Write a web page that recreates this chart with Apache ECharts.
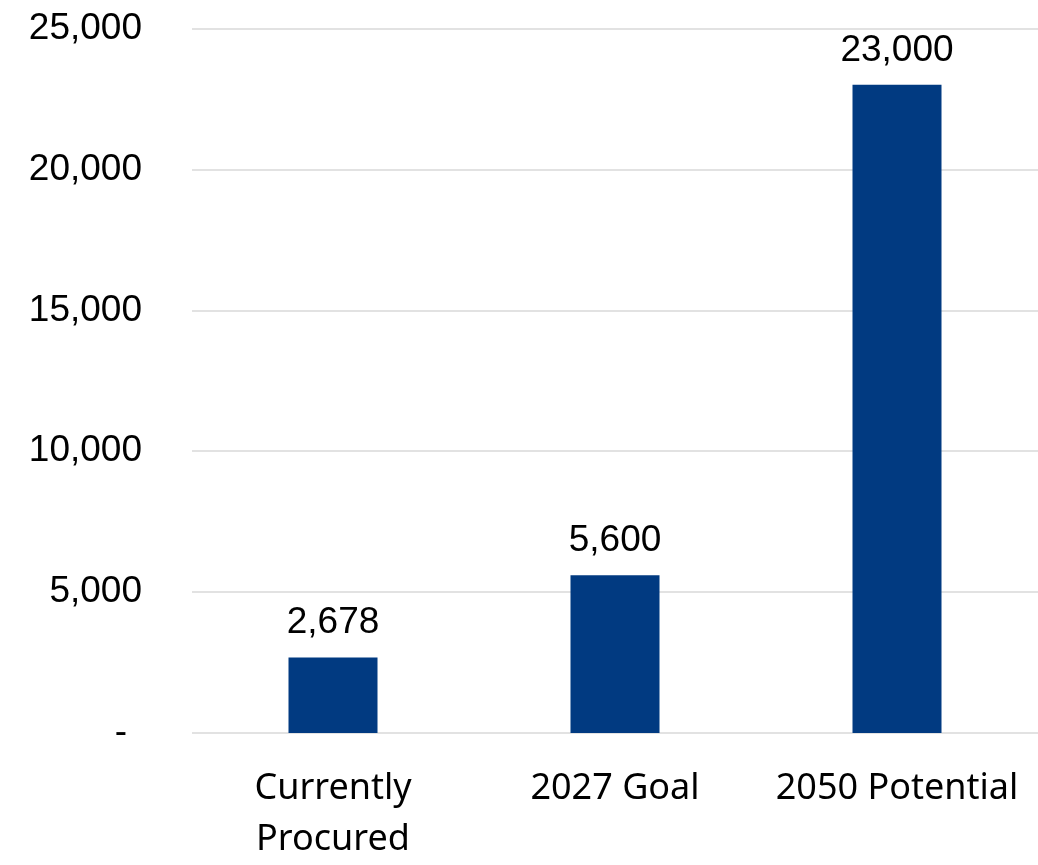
<!DOCTYPE html>
<html>
<head>
<meta charset="utf-8">
<script src="https://cdn.jsdelivr.net/npm/echarts@6/dist/echarts.min.js"></script>
<style>html,body{margin:0;padding:0;background:#fff;}#c{width:1038px;height:865px;}</style>
</head>
<body>
<div id="c"></div>
<script>
const categories = ['Currently\nProcured', '2027 Goal', '2050 Potential'];
const values = [2678, 5600, 23000];
const yMin = 0, yMax = 25000, yStep = 5000;

const fmt = v => v === 0 ? '{z|-}' : v.toLocaleString('en-US');
const chart = echarts.init(document.getElementById('c'));
chart.setOption({
  animation: false,
  grid: { left: 192, right: -6, top: 28.5, bottom: 123, containLabel: false },
  xAxis: {
    type: 'category', data: categories,
    axisLine: { show: false }, axisTick: { show: false },
    axisLabel: { fontFamily: 'Noto Sans', fontSize: 36, color: '#000', margin: 30, lineHeight: 51, interval: 0 }
  },
  yAxis: {
    type: 'value', min: yMin, max: yMax, interval: yStep,
    axisLine: { show: false }, axisTick: { show: false },
    splitLine: { lineStyle: { color: '#d9d9d9', width: 1.5 } },
    axisLabel: {
      fontFamily: 'Liberation Sans', fontSize: 37, color: '#000', margin: 50,
      formatter: fmt,
      rich: { z: { fontFamily: 'Liberation Sans', fontSize: 37, color: '#000', padding: [0, 15, 0, 0] } }
    }
  },
  series: [{
    type: 'bar', data: values, barWidth: 89,
    itemStyle: { color: '#013A81' },
    label: {
      show: true, position: 'top', distance: 16,
      fontFamily: 'Liberation Sans', fontSize: 37, color: '#000',
      formatter: p => p.value.toLocaleString('en-US')
    }
  }]
});
</script>
</body>
</html>
